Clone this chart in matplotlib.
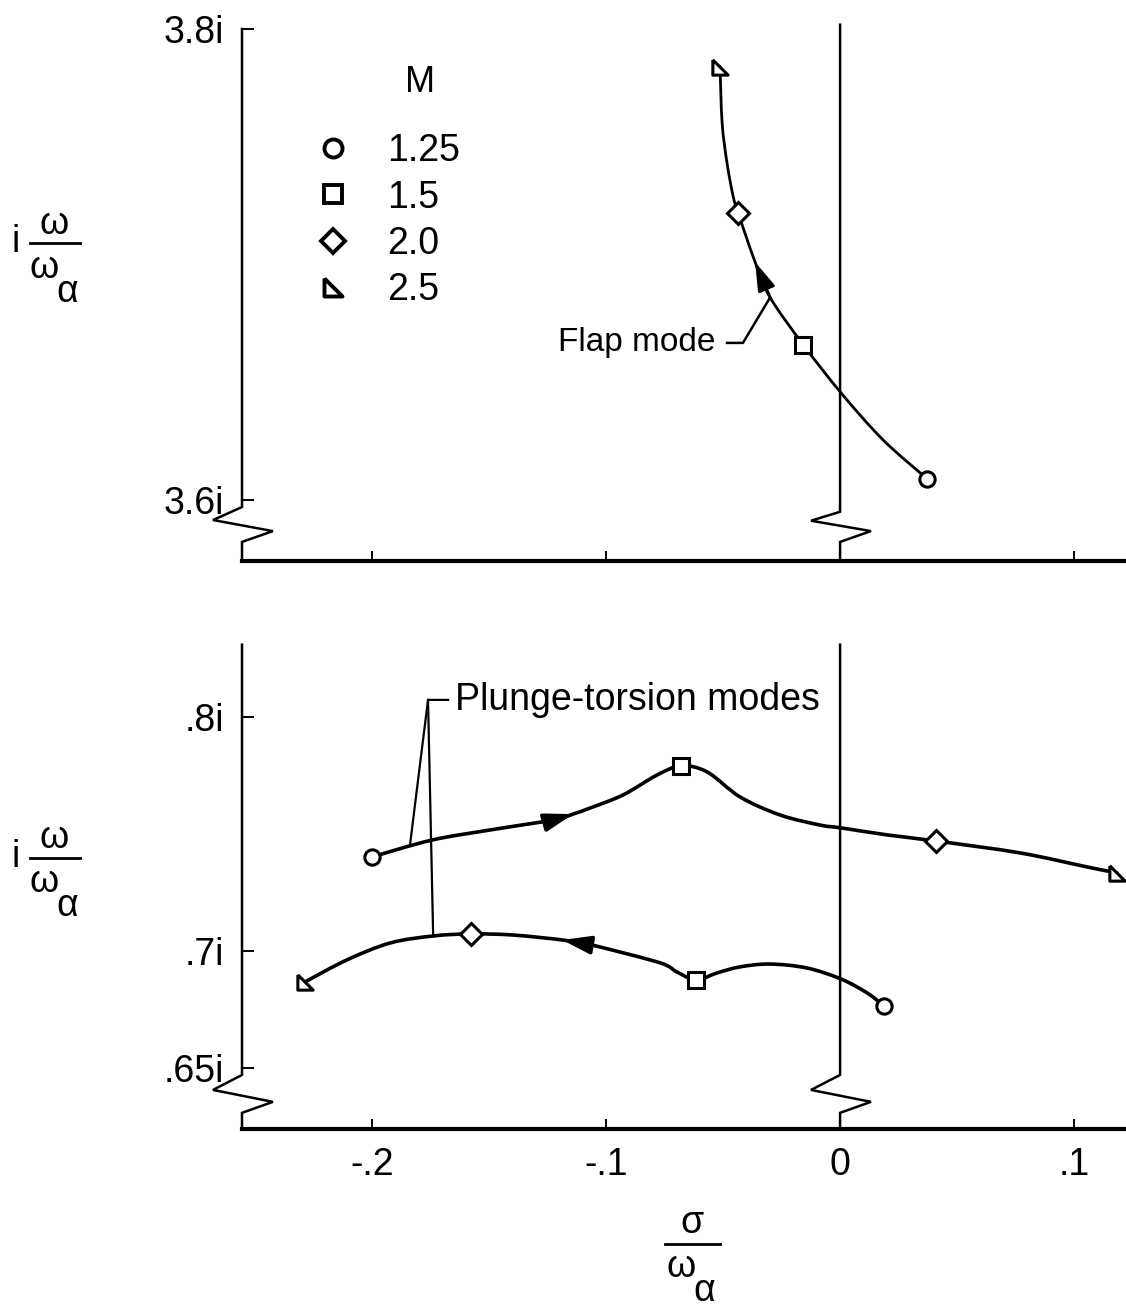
import numpy as np
import matplotlib.pyplot as plt
from matplotlib.lines import Line2D
from matplotlib.path import Path
from matplotlib.patches import PathPatch

plt.rcParams['font.family'] = ['Liberation Sans', 'DejaVu Sans']
plt.rcParams['font.size'] = 25

W, H = 1126, 1308

# legend: Mach numbers and their symbols
mach = ['1.25', '1.5', '2.0', '2.5']
tri = [(-1, 1), (-1, -1), (1, -1), (-1, 1)]  # right triangle symbol
symbols = ['o', 's', 'D', tri]

# flap mode, points at M = 1.25, 1.5, 2.0, 2.5
flap_sig = [0.0372, -0.0158, -0.0436, -0.0513]
flap_om = [3.609, 3.666, 3.722, 3.784]
# faired curve (M increasing)
flap_curve_sig = [0.0372, 0.0184, 0.0004, -0.0158, -0.0299, -0.0363, -0.0436,
                  -0.0457, -0.0483, -0.0504, -0.0513]
flap_curve_om = [3.609, 3.6255, 3.6455, 3.666, 3.686, 3.701, 3.722,
                 3.729, 3.743, 3.760, 3.784]

# plunge-torsion mode A (upper branch)
ptA_sig = [-0.2000, -0.0679, 0.0410, 0.1184]
ptA_om = [0.7402, 0.7791, 0.7470, 0.7333]
ptA_curve_sig = [-0.2000, -0.1744, -0.1496, -0.1226, -0.1141, -0.1068, -0.0927,
                 -0.0782, -0.0679, -0.0568, -0.0427, -0.0256, -0.0085, 0.0004,
                 0.0201, 0.0410, 0.0769, 0.1056, 0.1184]
ptA_curve_om = [0.7402, 0.7474, 0.7517, 0.7560, 0.7585, 0.7611, 0.7667,
                0.7752, 0.7791, 0.7765, 0.7658, 0.7581, 0.7538, 0.7526,
                0.7496, 0.7470, 0.7419, 0.7359, 0.7333]

# plunge-torsion mode B (lower branch)
ptB_sig = [0.0188, -0.0615, -0.1577, -0.2286]
ptB_om = [0.6765, 0.6876, 0.7073, 0.6868]
ptB_curve_sig = [0.0188, 0.0115, 0.0004, -0.0141, -0.0299, -0.0427, -0.0526,
                 -0.0615, -0.0697, -0.0769, -0.1026, -0.1090, -0.1188, -0.1397,
                 -0.1577, -0.1739, -0.1923, -0.2107, -0.2286]
ptB_curve_om = [0.6765, 0.6821, 0.6880, 0.6927, 0.6944, 0.6932, 0.6906,
                0.6876, 0.6910, 0.6949, 0.7017, 0.7030, 0.7047, 0.7068,
                0.7073, 0.7064, 0.7034, 0.6962, 0.6868]

x_ticks = [-0.2, -0.1, 0.0, 0.1]
x_ticklabels = ['-.2', '-.1', '0', '.1']
top_yticks = [3.6, 3.8]
top_yticklabels = ['3.6i', '3.8i']
bot_yticks = [0.65, 0.7, 0.8]
bot_yticklabels = ['.65i', '.7i', '.8i']

XLIM = (-0.2556, 0.1222)
TOP_YLIM = (3.5741, 3.8038)
BOT_YLIM = (0.6239, 0.8329)

fig = plt.figure(figsize=(W / 100, H / 100), dpi=100)
ax1 = fig.add_axes([242 / W, 1 - 561 / H, (W - 242) / W, (561 - 20) / H])
ax2 = fig.add_axes([242 / W, 1 - 1129 / H, (W - 242) / W, (1129 - 640) / H])


def broken_line(ax, x, y_top, y_bot, brk, dxl=0.0124, dxr=0.0132, lw=1.8):
    # vertical line with a zigzag break symbol
    xs = [x, x, x - dxl, x + dxr, x, x]
    ys = [y_top, brk[0], brk[1], brk[2], brk[3], y_bot]
    ax.plot(xs, ys, color='k', lw=lw, clip_on=False, solid_joinstyle='miter')


def faired(ax, xs, ys, lw):
    # smooth curve through the read points (Catmull-Rom as cubic Bezier)
    p = np.column_stack([xs, ys])
    verts, codes = [p[0]], [Path.MOVETO]
    for i in range(len(p) - 1):
        p0 = p[i - 1] if i > 0 else p[i]
        p3 = p[i + 2] if i + 2 < len(p) else p[i + 1]
        verts += [p[i] + (p[i + 1] - p0) / 6, p[i + 1] - (p3 - p[i]) / 6, p[i + 1]]
        codes += [Path.CURVE4] * 3
    ax.add_patch(PathPatch(Path(verts, codes), fill=False, ec='k', lw=lw,
                           clip_on=False, capstyle='round'))


def arrow(ax, xs, ys, i, lw):
    ax.annotate('', xy=(xs[i + 1], ys[i + 1]), xytext=(xs[i], ys[i]),
                arrowprops=dict(arrowstyle='-|>,head_length=0.7,head_width=0.22',
                                color='k', lw=lw, shrinkA=0, shrinkB=0))


for ax, ylim in ((ax1, TOP_YLIM), (ax2, BOT_YLIM)):
    ax.set_xlim(XLIM)
    ax.set_ylim(ylim)
    for s in ('top', 'right', 'left'):
        ax.spines[s].set_visible(False)
    ax.spines['bottom'].set_linewidth(3.0)
    ax.set_xticks(x_ticks)
    ax.tick_params(axis='x', direction='in', length=7, width=1.4, pad=13, labelsize=27)
    ax.tick_params(axis='y', direction='in', length=8.5, width=1.4, pad=13, labelsize=27)
    ax.patch.set_alpha(0)

ax1.set_xticklabels([])
ax2.set_xticklabels(x_ticklabels)
ax1.set_yticks(top_yticks)
ax1.set_yticklabels(top_yticklabels)
ax2.set_yticks(bot_yticks)
ax2.set_yticklabels(bot_yticklabels)

# axis lines with break marks
broken_line(ax1, XLIM[0], 3.8, TOP_YLIM[0], (3.5970, 3.5915, 3.5868, 3.5822))
broken_line(ax1, 0.0, TOP_YLIM[1] - 0.002, TOP_YLIM[0], (3.5950, 3.5912, 3.5868, 3.5822))
broken_line(ax2, XLIM[0], BOT_YLIM[1] - 0.002, BOT_YLIM[0], (0.6470, 0.6406, 0.6355, 0.6308))
broken_line(ax2, 0.0, BOT_YLIM[1] - 0.002, BOT_YLIM[0], (0.6470, 0.6406, 0.6355, 0.6308))

mk = dict(ls='none', mfc='white', mec='k', mew=2.2, ms=11, clip_on=False, zorder=5)

# flap mode
faired(ax1, flap_curve_sig, flap_curve_om, 2.0)
for i in range(4):
    ax1.plot(flap_sig[i], flap_om[i], marker=symbols[i], **mk)
arrow(ax1, flap_curve_sig, flap_curve_om, 4, 2.0)
ax1.plot([-0.0483, -0.0415, -0.0299], [3.6667, 3.6667, 3.686], color='k', lw=1.8)
ax1.text(-0.0534, 3.6667, 'Flap mode', ha='right', va='center', fontsize=24)

# plunge-torsion modes
faired(ax2, ptA_curve_sig, ptA_curve_om, 2.6)
faired(ax2, ptB_curve_sig, ptB_curve_om, 2.6)
for i in range(4):
    ax2.plot(ptA_sig[i], ptA_om[i], marker=symbols[i], **mk)
    ax2.plot(ptB_sig[i], ptB_om[i], marker=symbols[i], **mk)
arrow(ax2, ptA_curve_sig, ptA_curve_om, 3, 2.6)
arrow(ax2, ptB_curve_sig, ptB_curve_om, 11, 2.6)
ax2.plot([-0.1838, -0.1761, -0.1675], [0.7453, 0.8073, 0.8073], color='k', lw=1.6)
ax2.plot([-0.1761, -0.1739], [0.8073, 0.7064], color='k', lw=1.6)
ax2.text(-0.1645, 0.8073, 'Plunge-torsion modes', ha='left', va='center', fontsize=27)

# legend
handles = [Line2D([], [], ls='none', marker=m, mfc='white', mec='k', mew=2.8,
                  ms=(13 if m != 'D' else 12)) for m in symbols]
ax1.legend(handles, mach, loc='upper left', bbox_to_anchor=(314 / W, 1 - 133 / H),
           bbox_transform=fig.transFigure, frameon=False, handlelength=1.0,
           handletextpad=0.95, labelspacing=0.28, borderpad=0, borderaxespad=0,
           fontsize=27)
fig.text(420 / W, 1 - 83 / H, 'M', ha='center', va='center', fontsize=26)


def frac_label(num, x_num, y_num, bar, x_den, y_den, x_sub, y_sub, lead=None):
    # stacked fraction label drawn in figure pixels
    if lead is not None:
        fig.text(lead[0] / W, 1 - lead[1] / H, 'i', ha='center', va='center', fontsize=27)
    fig.text(x_num / W, 1 - y_num / H, num, ha='center', va='center', fontsize=27)
    fig.add_artist(Line2D([bar[0] / W, bar[1] / W], [1 - bar[2] / H] * 2,
                          color='k', lw=2.0))
    fig.text(x_den / W, 1 - y_den / H, 'ω', ha='center', va='center', fontsize=27)
    fig.text(x_sub / W, 1 - y_sub / H, 'α', ha='center', va='center', fontsize=27)


frac_label('ω', 54, 224, (30, 80, 243), 44, 268, 67, 292, lead=(16, 242))
frac_label('ω', 54, 838, (30, 80, 858), 44, 882, 67, 906, lead=(16, 857))
frac_label('σ', 692, 1223, (665, 720, 1244), 681, 1267, 704, 1291)

fig.savefig('out.png', dpi=100)
